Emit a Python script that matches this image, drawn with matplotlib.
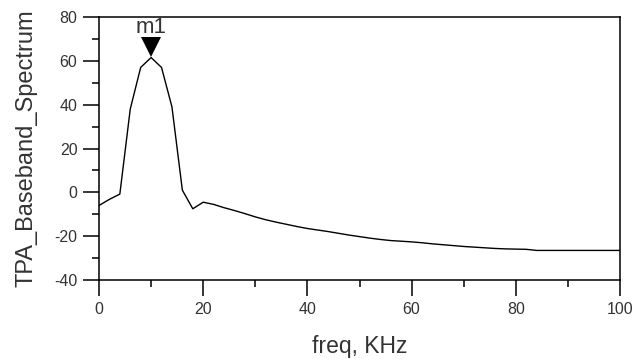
import matplotlib
matplotlib.use("Agg")
import matplotlib.pyplot as plt
from matplotlib.ticker import MultipleLocator
from matplotlib.transforms import offset_copy

plt.rcParams["font.family"] = ["Liberation Sans", "DejaVu Sans"]
plt.rcParams["axes.unicode_minus"] = False

# -------------------------
# Data
# -------------------------
freq_khz = [0, 2, 4, 6, 8, 10, 12, 14, 16, 18,
            20, 22, 24, 26, 28, 30, 32, 34, 36, 38,
            40, 42, 44, 46, 48, 50, 52, 54, 56, 58,
            60, 62, 64, 66, 68, 70, 72, 74, 76, 78,
            80, 82, 84, 86, 88, 90, 92, 94, 96, 98, 100]
spectrum = [-6.0, -3.2, -0.8, 38.0, 57.0, 61.5, 57.0, 39.0, 1.0, -7.5,
            -4.5, -5.5, -7.0, -8.3, -9.7, -11.2, -12.5, -13.6, -14.6, -15.6,
            -16.5, -17.2, -17.9, -18.7, -19.5, -20.2, -20.9, -21.5, -22.0, -22.3,
            -22.6, -23.0, -23.5, -23.9, -24.3, -24.7, -25.0, -25.3, -25.6, -25.8,
            -25.9, -26.0, -26.5, -26.5, -26.5, -26.5, -26.5, -26.5, -26.5, -26.5, -26.5]

marker_name = "m1"
marker_freq = 10
marker_value = 61.5

TEXT = "#333333"

fig = plt.figure(figsize=(6.35, 3.62), dpi=100)
ax = fig.add_axes([0.1559, 0.2265, 0.8205, 0.7265])

ax.plot(freq_khz, spectrum, color="black", linewidth=1.0)

# marker triangle, shifted up so its tip sits on the peak
ms = 15
tri_trans = offset_copy(ax.transData, fig=fig, x=0, y=ms / 2, units="points")
ax.plot([marker_freq], [marker_value], marker="v", markersize=ms, color="black",
        markeredgewidth=0, linestyle="none", transform=tri_trans, clip_on=False)
ax.annotate(marker_name, xy=(marker_freq, marker_value), xytext=(0, 22),
            textcoords="offset points", ha="center", va="center",
            fontsize=16, color=TEXT)

ax.set_xlim(0, 100)
ax.set_ylim(-40, 80)
ax.xaxis.set_major_locator(MultipleLocator(20))
ax.xaxis.set_minor_locator(MultipleLocator(10))
ax.yaxis.set_major_locator(MultipleLocator(20))
ax.yaxis.set_minor_locator(MultipleLocator(10))

ax.tick_params(which="major", direction="out", length=11.5, width=1.1,
               labelsize=11.5, labelcolor=TEXT, pad=4)
ax.tick_params(which="minor", direction="out", length=5, width=1.1)
for sp in ax.spines.values():
    sp.set_linewidth(1.1)

ax.set_xlabel("freq, KHz", fontsize=16.5, color=TEXT, labelpad=13)
ax.set_ylabel("TPA_Baseband_Spectrum", fontsize=17, color=TEXT, labelpad=12)

fig.savefig("out.png", dpi=100)
